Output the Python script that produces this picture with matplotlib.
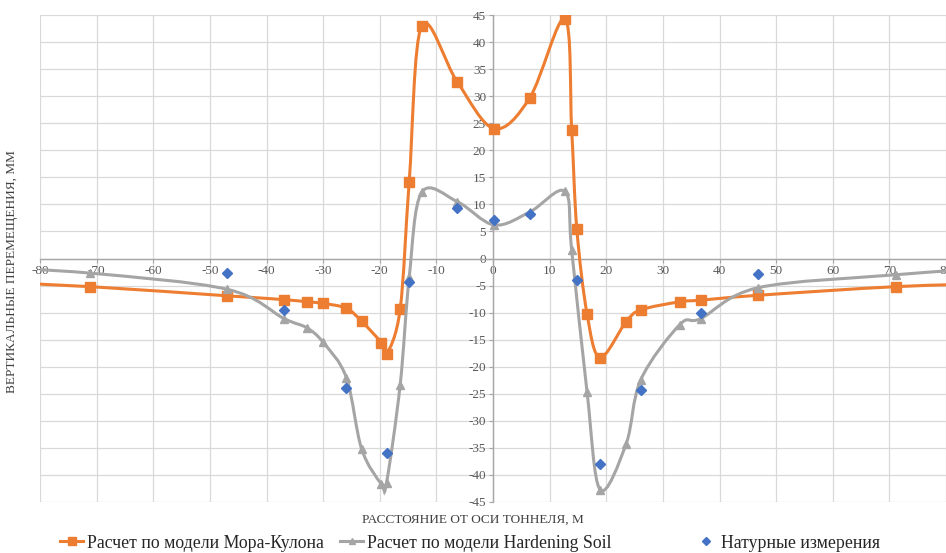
import numpy as np
import matplotlib.pyplot as plt
from matplotlib.path import Path
from matplotlib.patches import PathPatch
from matplotlib.lines import Line2D

plt.rcParams['font.family'] = ['Liberation Serif', 'DejaVu Serif']
plt.rcParams['axes.unicode_minus'] = False

# Расчет по модели Мора-Кулона
mc_x = [-90, -71.2, -46.9, -36.9, -32.9, -30.0, -25.9, -23.2, -19.7, -18.8, -16.4, -14.8, -12.6,
        -6.3, 0.2, 6.5, 12.7, 13.9, 14.8, 16.6, 18.9, 23.5, 26.1, 33.0, 36.7, 46.8, 71.2, 90]
mc_y = [-4.3, -5.2, -6.9, -7.6, -8.0, -8.3, -9.2, -11.6, -15.6, -17.7, -9.4, 14.2, 43.0,
        32.6, 24.0, 29.7, 44.3, 23.7, 5.5, -10.2, -18.3, -11.7, -9.5, -8.0, -7.7, -6.8, -5.2, -4.6]

# Расчет по модели Hardening Soil
hs_x = [-90, -71.2, -46.9, -36.9, -32.9, -30.0, -25.9, -23.2, -19.7, -18.8, -16.4, -14.8, -12.6,
        -6.3, 0.2, 6.5, 12.7, 13.9, 16.6, 18.9, 23.5, 26.1, 33.0, 36.7, 46.8, 71.2, 90]
hs_y = [-1.6, -2.7, -5.7, -11.1, -12.8, -15.5, -22.0, -35.2, -41.7, -41.4, -23.4, -3.5, 12.2,
        10.5, 6.2, 8.6, 12.4, 1.5, -24.6, -42.7, -34.3, -22.4, -12.2, -11.1, -5.4, -3.0, -1.6]

# Натурные измерения
meas_x = [-46.9, -36.9, -25.9, -18.8, -14.8, -6.3, 0.2, 6.5, 14.9, 18.9, 26.1, 36.7, 46.8]
meas_y = [-2.7, -9.5, -24.0, -36.0, -4.4, 9.3, 7.2, 8.2, -4.0, -37.9, -24.3, -10.0, -2.9]

x_ticks = np.arange(-80, 81, 10)
y_ticks = np.arange(-45, 46, 5)

c_mc = '#ED7D31'
c_hs = '#A5A5A5'
c_meas = '#4472C4'


def smooth_path(x, y):
    # сглаженная линия как в Excel (кривые Безье через точки)
    pts = np.column_stack([x, y]).astype(float)
    n = len(pts)
    verts = [pts[0]]
    codes = [Path.MOVETO]
    for i in range(n - 1):
        p0 = pts[i - 1] if i > 0 else pts[i]
        p1 = pts[i]
        p2 = pts[i + 1]
        p3 = pts[i + 2] if i + 2 < n else pts[i + 1]
        verts += [p1 + (p2 - p0) / 6, p2 - (p3 - p1) / 6, p2]
        codes += [Path.CURVE4] * 3
    return Path(verts, codes)


fig = plt.figure(figsize=(9.46, 5.53), dpi=100)
ax = fig.add_axes([40 / 946, 51 / 553, 906 / 946, 487 / 553])

ax.add_patch(PathPatch(smooth_path(mc_x, mc_y), fill=False, edgecolor=c_mc, lw=2.2, zorder=3))
ax.plot(mc_x, mc_y, ls='none', marker='s', ms=7, color=c_mc, zorder=4)

ax.add_patch(PathPatch(smooth_path(hs_x, hs_y), fill=False, edgecolor=c_hs, lw=2.2, zorder=5))
ax.plot(hs_x, hs_y, ls='none', marker='^', ms=5.5, color=c_hs, zorder=6)

ax.plot(meas_x, meas_y, ls='none', marker='D', ms=5, color=c_meas, zorder=7)

ax.set_xlim(-80, 80)
ax.set_ylim(-45, 45)
ax.set_xticks(x_ticks)
ax.set_yticks(y_ticks)
ax.grid(True, color='#D9D9D9', lw=0.9)
ax.set_axisbelow(True)

ax.spines['left'].set_position('zero')
ax.spines['bottom'].set_position('zero')
ax.spines['right'].set_visible(False)
ax.spines['top'].set_visible(False)
for s in ('left', 'bottom'):
    ax.spines[s].set_color('#A6A6A6')
    ax.spines[s].set_linewidth(1.0)
    ax.spines[s].set_zorder(2)

ax.tick_params(axis='both', direction='out', length=3, color='#A6A6A6',
               labelsize=9.5, labelcolor='#595959', pad=2)

fig.text(0.5, 1 - 520 / 553, 'РАССТОЯНИЕ ОТ ОСИ ТОННЕЛЯ, М', ha='center', va='center',
         fontsize=9.5, color='#404040')
fig.text(12 / 946, 1 - 272 / 553, 'ВЕРТИКАЛЬНЫЕ ПЕРЕМЕЩЕНИЯ, ММ', ha='center', va='center',
         rotation=90, fontsize=9.5, color='#404040')

# легенда: три отдельных элемента, расставленных как в оригинале
legend_items = [
    (Line2D([], [], color=c_mc, lw=2.2, marker='s', ms=6), 'Расчет по модели Мора-Кулона', 60),
    (Line2D([], [], color=c_hs, lw=2.2, marker='^', ms=5), 'Расчет по модели Hardening Soil', 340),
    (Line2D([], [], ls='none', color=c_meas, marker='D', ms=4), 'Натурные измерения', 694),
]
for h, lab, xpx in legend_items:
    fig.legend([h], [lab], loc='center left', bbox_to_anchor=(xpx / 946, 1 - 543 / 553),
               frameon=False, fontsize=12.8, handlelength=1.3, handletextpad=0.2,
               borderpad=0, borderaxespad=0, labelcolor='#262626')

fig.savefig('out.png', dpi=100)
